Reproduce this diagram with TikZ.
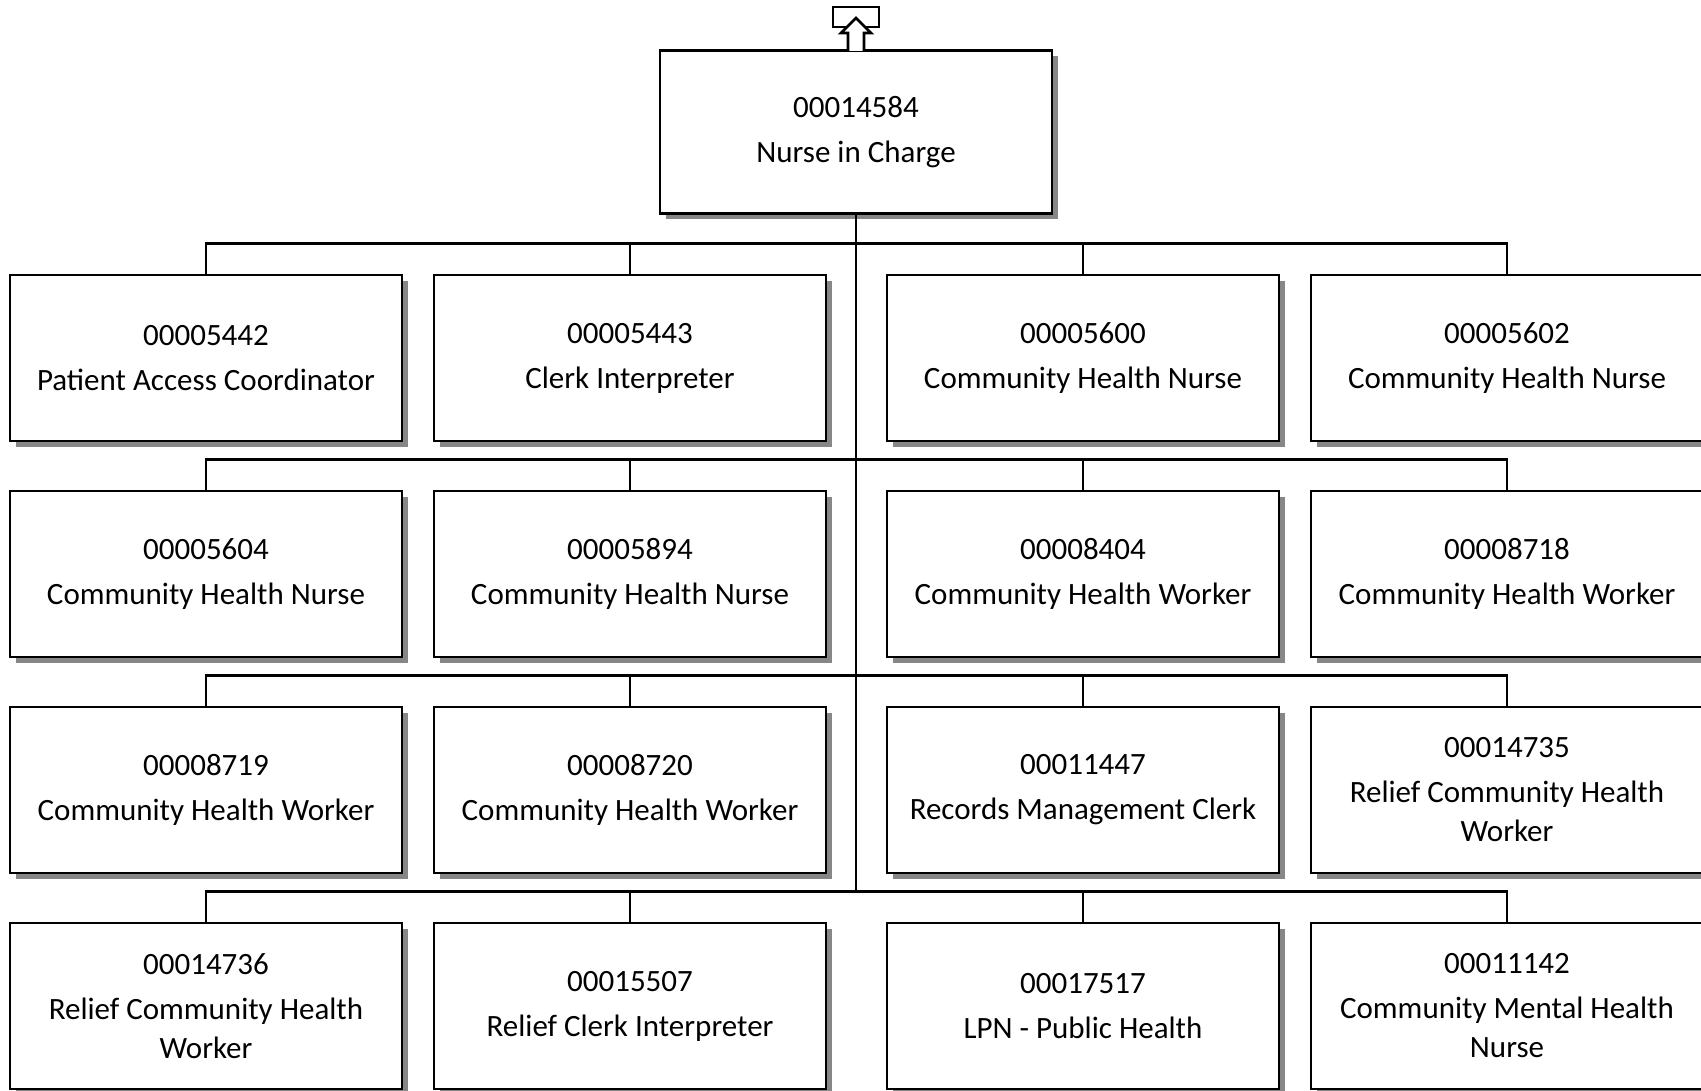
\documentclass[tikz,border=0pt]{standalone}
\usepackage{fontspec}
\setmainfont{Carlito}
\usetikzlibrary{calc,shadows}
\tikzset{
  posbox/.style={draw, line width=2.6pt, fill=white, minimum width=392pt, minimum height=166pt,
    align=center, font=\fontsize{31}{39}\selectfont,
    drop shadow={fill=black!47, opacity=1, shadow xshift=6pt, shadow yshift=-6pt}},
  link/.style={line width=2.6pt}
}
\begin{document}
\begin{tikzpicture}[x=1pt,y=-1pt]
\useasboundingbox (0,0) rectangle (1701,1091);
\node[posbox, minimum height=163pt] (top) at (856,132) {00014584\\[6pt]Nurse in Charge};
% up arrow to the next level
\draw[line width=2.8pt] (833,7) rectangle (879,27);
\draw[line width=2.8pt, fill=white] (848,51) -- (848,33) -- (841,33) -- (856,18) -- (871,33) -- (864,33) -- (864,51);
% row 1
\node[posbox] (n11) at (206,358) {00005442\\[6pt]Patient Access Coordinator};
\node[posbox] (n12) at (630,358) {00005443\\[6pt]Clerk Interpreter};
\node[posbox] (n13) at (1083,358) {00005600\\[6pt]Community Health Nurse};
\node[posbox] (n14) at (1507,358) {00005602\\[6pt]Community Health Nurse};
% row 2
\node[posbox] (n21) at (206,574) {00005604\\[6pt]Community Health Nurse};
\node[posbox] (n22) at (630,574) {00005894\\[6pt]Community Health Nurse};
\node[posbox] (n23) at (1083,574) {00008404\\[6pt]Community Health Worker};
\node[posbox] (n24) at (1507,574) {00008718\\[6pt]Community Health Worker};
% row 3
\node[posbox] (n31) at (206,790) {00008719\\[6pt]Community Health Worker};
\node[posbox] (n32) at (630,790) {00008720\\[6pt]Community Health Worker};
\node[posbox] (n33) at (1083,790) {00011447\\[6pt]Records Management Clerk};
\node[posbox] (n34) at (1507,790) {00014735\\[6pt]Relief Community Health\\Worker};
% row 4
\node[posbox] (n41) at (206,1006) {00014736\\[6pt]Relief Community Health\\Worker};
\node[posbox] (n42) at (630,1006) {00015507\\[6pt]Relief Clerk Interpreter};
\node[posbox] (n43) at (1083,1006) {00017517\\[6pt]LPN - Public Health};
\node[posbox] (n44) at (1507,1006) {00011142\\[6pt]Community Mental Health\\Nurse};
\foreach \r in {1,2,3,4} {
\draw[link] (n\r1.north) -- ++(0,-30) -| (n\r4.north);
\draw[link] (n\r2.north) -- ++(0,-30);
\draw[link] (n\r3.north) -- ++(0,-30);
}
\draw[link] (top.south) -- ($(top.south |- n41.north)+(0,-30)$);
\end{tikzpicture}
\end{document}
